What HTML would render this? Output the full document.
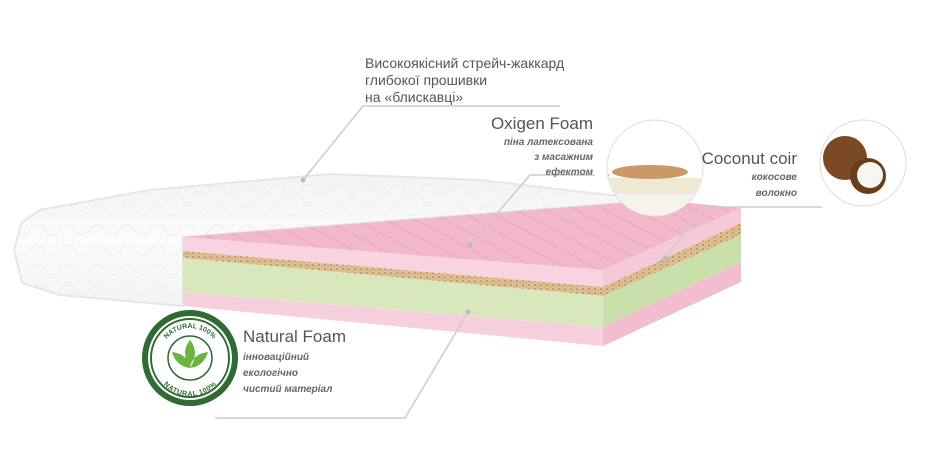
<!DOCTYPE html>
<html><head><meta charset="utf-8"><style>
html,body{margin:0;padding:0;background:#fff;}
svg{display:block;}
text{font-family:"Liberation Sans",sans-serif;}
</style></head><body>
<svg width="928" height="463" viewBox="0 0 928 463" xmlns="http://www.w3.org/2000/svg">
<defs>
<linearGradient id="wh" x1="0" y1="0" x2="0" y2="1"><stop offset="0" stop-color="#f3f3f3"/><stop offset="0.5" stop-color="#fbfbfb"/><stop offset="1" stop-color="#f4f4f4"/></linearGradient>
<pattern id="q" width="30" height="20" patternUnits="userSpaceOnUse"><path d="M0 10 Q8 0 15 10 T30 10" fill="none" stroke="#ececec" stroke-width="1"/></pattern>
<pattern id="rib" width="14" height="14" patternUnits="userSpaceOnUse" patternTransform="rotate(-62)"><rect width="14" height="14" fill="#f2b9cd"/><rect width="2" height="14" fill="#eeaec4"/></pattern>
<pattern id="coir" width="6" height="4" patternUnits="userSpaceOnUse"><rect width="6" height="4" fill="#dcc094"/><rect width="2" height="2" fill="#c49a66"/><rect x="3" y="2" width="2" height="1" fill="#cfa978"/></pattern>
<clipPath id="c1"><circle cx="655" cy="168" r="47"/></clipPath>
<path id="arcT" d="M160 358 A30 30 0 0 1 220 358"/>
<path id="arcB" d="M158 360 A32 32 0 0 0 222 360"/>
</defs>
<!-- white mattress -->
<path d="M14 250 L22 222 L40 210 L150 190 L330 174 L480 180 L600 194 L660 200 L183 237 L183 306 L60 295 L22 283 Z" fill="url(#wh)" stroke="#e6e6e6" stroke-width="2"/>
<path d="M14 250 L22 222 L40 210 L150 190 L330 174 L480 180 L600 194 L660 200 L183 237 L183 306 L60 295 L22 283 Z" fill="url(#q)"/>
<!-- top surface -->
<path d="M183 237 L660 200 L741 208 L603 270 Z" fill="url(#rib)"/>
<!-- front face -->
<path d="M183 237 L603 270 L603 287 L183 251 Z" fill="#f8d3e0"/>
<path d="M183 251 L603 287 L603 296 L183 258 Z" fill="url(#coir)"/>
<path d="M183 258 L603 296 L603 327 L183 292 Z" fill="#d8e8bc"/>
<path d="M183 292 L603 327 L603 346 L183 306 Z" fill="#f7d0de"/>
<!-- right face -->
<path d="M603 270 L741 208 L741 223 L603 287 Z" fill="#f5c9d8"/>
<path d="M603 287 L741 223 L741 235 L603 296 Z" fill="url(#coir)"/>
<path d="M603 296 L741 235 L741 262 L603 327 Z" fill="#c9e0aa"/>
<path d="M603 327 L741 262 L741 282 L603 346 Z" fill="#f2bdcf"/>
<!-- leader lines -->
<g stroke="#cccccc" stroke-width="1.5" fill="none">
<polyline points="560,106 363,106 303,180"/>
<polyline points="595,175 530,175 470,245"/>
<polyline points="822,207 705,207 665,258"/>
<polyline points="215,418 405,418 468,312"/>
</g>
<g fill="#bbb"><circle cx="303" cy="180" r="2.5"/><circle cx="470" cy="245" r="2.5"/><circle cx="665" cy="258" r="2.5"/><circle cx="468" cy="312" r="2.5"/></g>
<!-- circles -->
<circle cx="655" cy="168" r="48" fill="#fff" stroke="#ddd"/>
<g clip-path="url(#c1)">
<rect x="600" y="178" width="110" height="16" fill="#efe8d2"/>
<rect x="600" y="194" width="110" height="22" fill="#f6f3ec"/>
<ellipse cx="650" cy="172" rx="38" ry="7" fill="#c9996a"/>
<ellipse cx="602" cy="176" rx="7" ry="6" fill="#222"/>
</g>
<circle cx="863" cy="163" r="43" fill="#fff" stroke="#ddd"/>
<circle cx="845" cy="158" r="22" fill="#7a4a24"/>
<circle cx="868" cy="176" r="18" fill="#6a3c1a"/>
<circle cx="870" cy="175" r="13" fill="#f7f7f2"/>
<!-- badge -->
<circle cx="190" cy="358" r="48" fill="#2f6b33"/>
<circle cx="190" cy="358" r="42" fill="#fff"/>
<circle cx="190" cy="358" r="39" fill="none" stroke="#2f6b33" stroke-width="2"/>
<circle cx="190" cy="358" r="22" fill="none" stroke="#2f6b33" stroke-width="1.5"/>
<path d="M190 340 Q200 352 190 368 Q180 352 190 340Z M172 352 Q188 354 190 368 Q176 366 172 352Z M208 352 Q192 354 190 368 Q204 366 208 352Z" fill="#6cb33f"/>
<text font-size="7" font-weight="bold" fill="#2f6b33"><textPath href="#arcT" startOffset="50%" text-anchor="middle">NATURAL 100%</textPath></text>
<text font-size="7" font-weight="bold" fill="#2f6b33"><textPath href="#arcB" startOffset="50%" text-anchor="middle" dominant-baseline="hanging">NATURAL 100%</textPath></text>
<!-- text -->
<g fill="#555" font-size="14">
<text x="365" y="68">Високоякісний стрейч-жаккард</text>
<text x="365" y="85">глибокої прошивки</text>
<text x="365" y="102">на «блискавці»</text>
</g>
<text x="593" y="129" font-size="17" fill="#555" text-anchor="end">Oxigen Foam</text>
<g font-size="10" font-weight="bold" font-style="italic" fill="#666" text-anchor="end">
<text x="593" y="145">піна латексована</text>
<text x="593" y="160">з масажним</text>
<text x="593" y="175">ефектом</text>
</g>
<text x="797" y="164" font-size="17" fill="#555" text-anchor="end">Coconut coir</text>
<g font-size="10" font-weight="bold" font-style="italic" fill="#666" text-anchor="end">
<text x="797" y="180">кокосове</text>
<text x="797" y="196">волокно</text>
</g>
<text x="243" y="342" font-size="17" fill="#555">Natural Foam</text>
<g font-size="10" font-weight="bold" font-style="italic" fill="#666">
<text x="243" y="360">інноваційний</text>
<text x="243" y="376">екологічно</text>
<text x="243" y="392">чистий матеріал</text>
</g>
</svg>
</body></html>
